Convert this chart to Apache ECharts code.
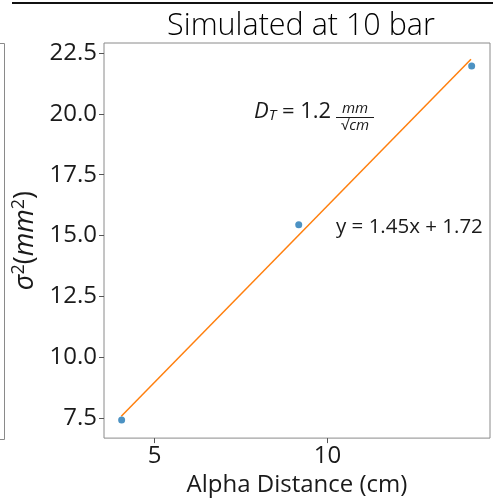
<!DOCTYPE html>
<html>
<head>
<meta charset="utf-8">
<script src="https://cdn.jsdelivr.net/npm/echarts@6/dist/echarts.min.js"></script>
<style>
html,body{margin:0;padding:0;background:#fff;}
#c{width:493px;height:502px;}
</style>
</head>
<body>
<div id="c"></div>
<script>
// Data
const distances = [4.05, 9.17, 14.17];      // Alpha distance (cm)
const sigmaSq   = [7.42, 15.44, 21.97];     // sigma^2 (mm^2)
const fitX      = [4.04, 14.15];            // fitted line end points
const fitY      = [7.58, 22.24];
const xTicks    = [5, 10];
const yTicks    = [7.5, 10, 12.5, 15, 17.5, 20, 22.5];
const titleText = 'Simulated at 10 bar';
const xName     = 'Alpha Distance (cm)';
const fitText   = 'y = 1.45x + 1.72';

const FONT = 'Open Sans';
const points = distances.map((d, i) => [d, sigmaSq[i]]);
const fitLine = fitX.map((d, i) => [d, fitY[i]]);

const chart = echarts.init(document.getElementById('c'), null, {renderer: 'canvas'});
chart.setOption({
  animation: false,
  backgroundColor: '#fff',
  title: {
    text: titleText, left: 296, top: 6, textAlign: 'center',
    textStyle: {fontFamily: FONT, fontSize: 30.5, fontWeight: 300, color: '#000'}
  },
  grid: {left: 104, top: 43, width: 386, height: 396, show: true, borderColor: '#8a8a8a', borderWidth: 1},
  xAxis: {
    type: 'value', min: 3.54, max: 14.70,
    name: xName, nameLocation: 'middle', nameGap: 33,
    nameTextStyle: {fontFamily: FONT, fontSize: 24, color: '#1a1a1a'},
    axisLine: {show: false},
    splitLine: {show: false},
    axisTick: {show: true, length: 5, customValues: xTicks, lineStyle: {color: '#555'}},
    axisLabel: {customValues: xTicks, fontFamily: FONT, fontSize: 24, color: '#1a1a1a', margin: 6}
  },
  yAxis: {
    type: 'value', min: 6.68, max: 22.91,
    name: '{i|σ}{s|2}{n|(}{i|mm}{s|2}{n|)}', nameLocation: 'middle', nameRotate: 90, nameGap: 61,
    nameTextStyle: {
      fontFamily: FONT, fontSize: 27, color: '#1a1a1a',
      rich: {
        i: {fontFamily: FONT, fontSize: 27, fontStyle: 'italic', color: '#1a1a1a'},
        n: {fontFamily: FONT, fontSize: 27, color: '#1a1a1a'},
        s: {fontFamily: FONT, fontSize: 18, color: '#1a1a1a', padding: [0, 0, 12, 0]}
      }
    },
    axisLine: {show: false},
    splitLine: {show: false},
    axisTick: {show: true, length: 5, customValues: yTicks, lineStyle: {color: '#555'}},
    axisLabel: {customValues: yTicks, fontFamily: FONT, fontSize: 24, color: '#1a1a1a', margin: 7,
      formatter: v => v.toFixed(1)}
  },
  series: [
    {
      type: 'line', data: fitLine, symbol: 'none', z: 2,
      lineStyle: {color: '#ff7f0e', width: 1.5}
    },
    {
      type: 'scatter', data: points, symbolSize: 7, z: 3,
      itemStyle: {color: '#1f77b4'}
    }
  ],
  graphic: [
    // neighbour subplot border & top line (crop remnants)
    {type: 'line', shape: {x1: 12, y1: 3, x2: 493, y2: 3}, style: {stroke: '#111', lineWidth: 2}},
    {type: 'polyline', shape: {points: [[0, 43.5], [4.5, 43.5], [4.5, 439.5], [0, 439.5]]}, style: {stroke: '#8a8a8a', lineWidth: 1, fill: null}},
    // D_T annotation
    {type: 'text', left: 254, top: 101, style: {
      text: '{d|D}{t|T}{n| = 1.2}',
      rich: {
        d: {fontFamily: FONT, fontSize: 22, fontStyle: 'italic', fill: '#1a1a1a'},
        t: {fontFamily: FONT, fontSize: 15, fontStyle: 'italic', fill: '#1a1a1a', padding: [0, 0, -8, 0]},
        n: {fontFamily: FONT, fontSize: 22, fill: '#1a1a1a'}
      }
    }},
    {type: 'text', x: 355, y: 109, style: {text: 'mm', fontFamily: FONT, fontSize: 15, fontStyle: 'italic', fill: '#1a1a1a', align: 'center', verticalAlign: 'middle'}},
    {type: 'line', shape: {x1: 336, y1: 117.5, x2: 374, y2: 117.5}, style: {stroke: '#1a1a1a', lineWidth: 1}},
    {type: 'text', x: 355, y: 126, style: {
      text: '{n|√}{i|cm}', align: 'center', verticalAlign: 'middle',
      rich: {
        n: {fontFamily: FONT, fontSize: 15, fill: '#1a1a1a'},
        i: {fontFamily: FONT, fontSize: 15, fontStyle: 'italic', fill: '#1a1a1a'}
      }
    }},
    {type: 'text', left: 336, top: 217, style: {text: fitText, fontFamily: FONT, fontSize: 20.5, fill: '#1a1a1a'}}
  ]
});
</script>
</body>
</html>
